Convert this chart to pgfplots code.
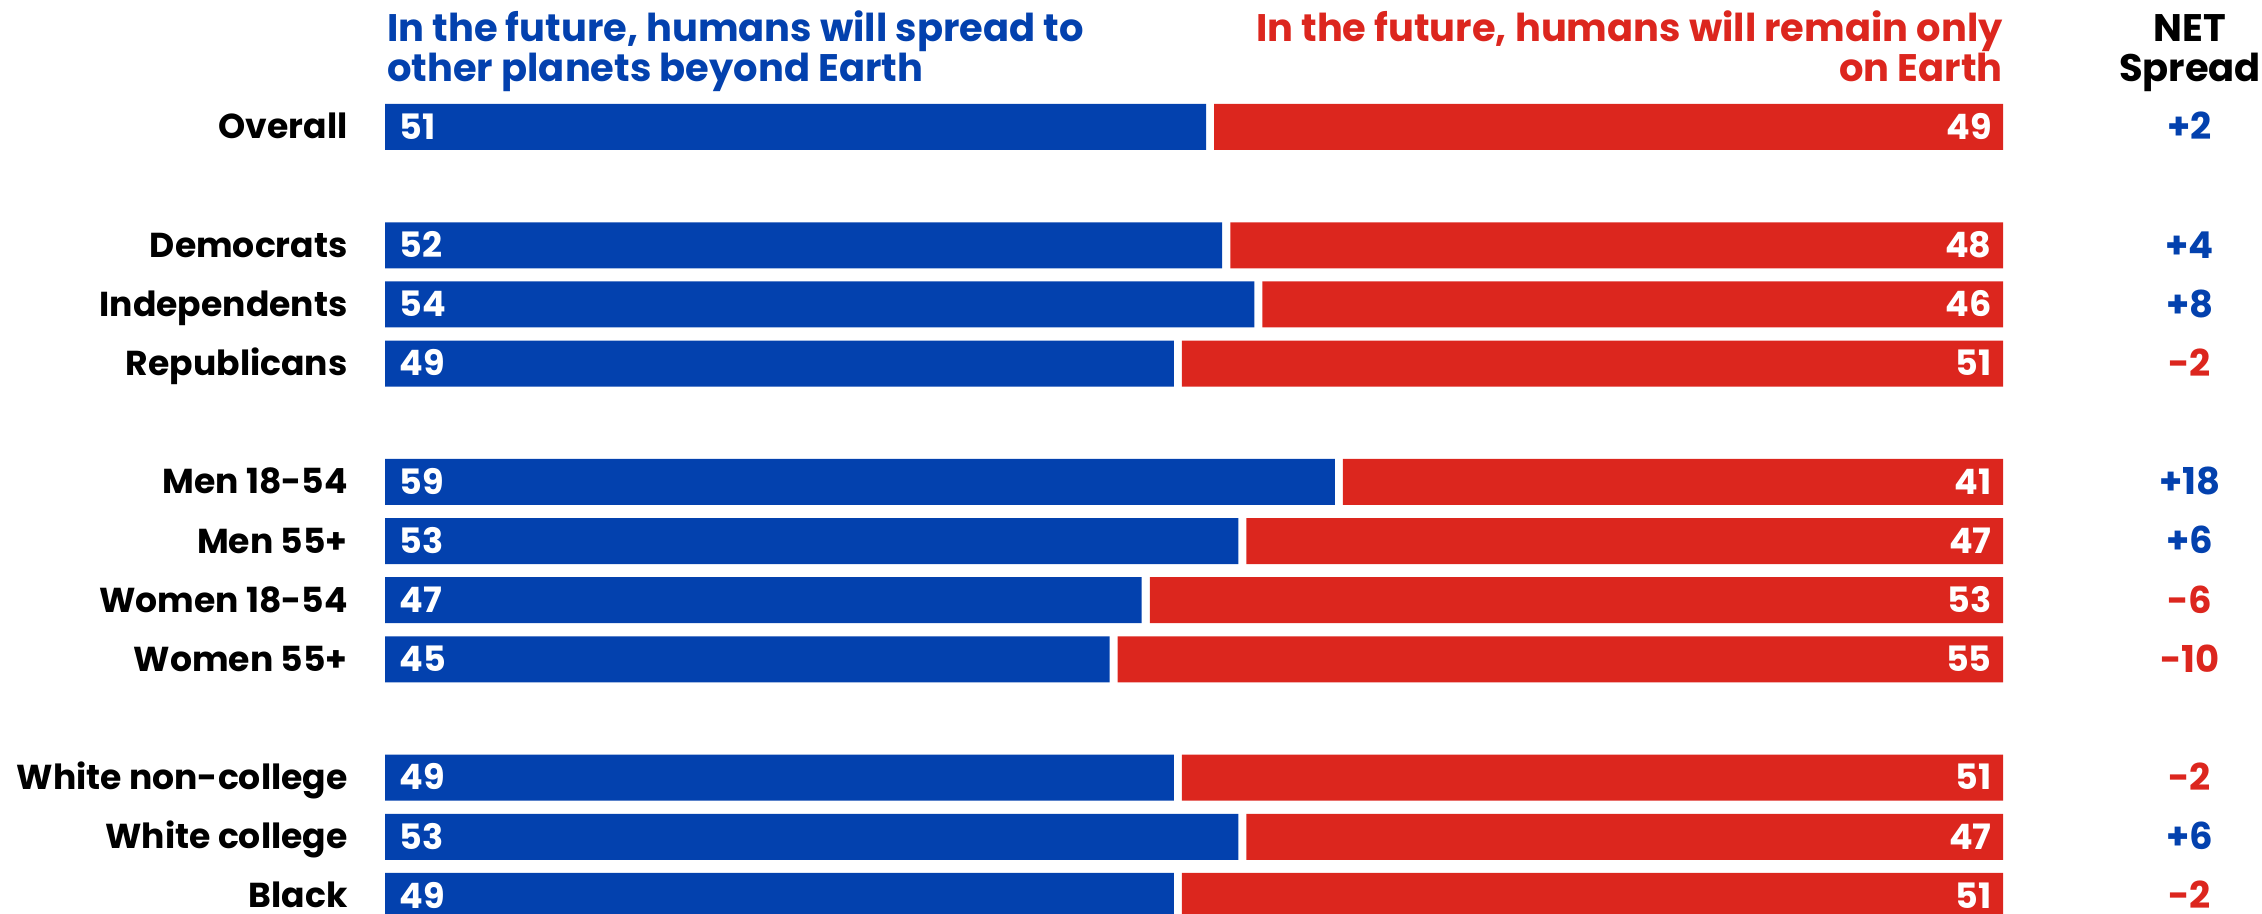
\documentclass[border=0pt]{standalone}
\usepackage{fontspec}
\setmainfont{Poppins}
\usepackage{pgfplots}
\usepackage{pgfplotstable}
\pgfplotsset{compat=1.18}
\definecolor{spreadblue}{RGB}{3,65,174}
\definecolor{earthred}{RGB}{220,38,30}

% row position, share "spread", spacer, share "remain only on Earth", net
\pgfplotstableread{
row spread gap remain net netlab
0  51 0.5 49   2  +2
2  52 0.5 48   4  +4
3  54 0.5 46   8  +8
4  49 0.5 51  -2  -2
6  59 0.5 41  18  +18
7  53 0.5 47   6  +6
8  47 0.5 53  -6  -6
9  45 0.5 55 -10  -10
11 49 0.5 51  -2  -2
12 53 0.5 47   6  +6
13 49 0.5 51  -2  -2
}\spreaddata

\newcommand{\lblfont}{\bfseries\fontsize{17.3}{20}\selectfont}
\newcommand{\numfont}{\bfseries\fontsize{17.5}{20}\selectfont}
\newcommand{\netfont}{\bfseries\fontsize{18.5}{21}\selectfont}
\newcommand{\ttlfont}{\bfseries\fontsize{19.2}{22}\selectfont}

\begin{document}
\begin{tikzpicture}
\begin{axis}[
    at={(0,0)}, anchor=north west,
    scale only axis,
    width=809pt, height=457pt,
    xmin=0, xmax=100.5,
    ymin=-2.147, ymax=13.305,
    y dir=reverse,
    xbar stacked,
    bar width=23pt,
    clip=false,
    set layers,
    axis line style={draw=none},
    tick style={draw=none},
    xtick=\empty,
    ytick={0,2,3,4,6,7,8,9,11,12,13},
    yticklabels={Overall,Democrats,Independents,Republicans,Men 18-54,Men 55+,Women 18-54,Women 55+,White non-college,White college,Black},
    y tick label style={font=\lblfont, anchor=east, inner sep=0pt, xshift=-18.5pt,
        text height=12pt, text depth=0pt},
]
    % label for the blue share, at the start of the bar
    \addplot[draw=none, fill=none, forget plot, on layer=axis foreground,
        point meta=explicit symbolic,
        nodes near coords,
        nodes near coords style={anchor=west, text=white, font=\numfont, inner sep=0pt, xshift=7pt,
            text height=12.2pt, text depth=0pt}]
        table[x expr=0.001, y=row, meta=spread] {\spreaddata};
    \addplot[fill=spreadblue, draw=none] table[x=spread, y=row] {\spreaddata};
    \addplot[fill=none, draw=none] table[x=gap, y=row] {\spreaddata};
    \addplot[fill=earthred, draw=none] table[x=remain, y=row] {\spreaddata};
    % label for the red share, at the end of the bar
    \addplot[draw=none, fill=none, forget plot, on layer=axis foreground,
        point meta=explicit symbolic,
        nodes near coords,
        nodes near coords style={anchor=east, text=white, font=\numfont, inner sep=0pt, xshift=-5.5pt,
            text height=12.2pt, text depth=0pt}]
        table[x expr=0.001, y=row, meta=remain] {\spreaddata};
    % NET spread column (label sits at the middle of this empty segment)
    \addplot[draw=none, fill=none, forget plot, on layer=axis foreground,
        point meta=explicit symbolic,
        visualization depends on={\thisrow{net} \as \netv},
        nodes near coords={\ifdim\netv pt<0pt\color{earthred}\else\color{spreadblue}\fi\pgfplotspointmeta},
        nodes near coords style={anchor=center, font=\netfont, inner sep=0pt,
            text height=12.9pt, text depth=0pt}]
        table[x expr=23.2, y=row, meta=netlab] {\spreaddata};
\end{axis}
% column headings
\node[anchor=base west, inner sep=0pt, text=spreadblue, font=\ttlfont] at (1pt,-21pt) {In the future, humans will spread to};
\node[anchor=base west, inner sep=0pt, text=spreadblue, font=\ttlfont] at (1pt,-41pt) {other planets beyond Earth};
\node[anchor=base east, inner sep=0pt, text=earthred, font=\ttlfont] at (809pt,-21pt) {In the future, humans will remain only};
\node[anchor=base east, inner sep=0pt, text=earthred, font=\ttlfont] at (809pt,-41pt) {on Earth};
\node[anchor=base, inner sep=0pt, font=\ttlfont] at (902.5pt,-21pt) {NET};
\node[anchor=base, inner sep=0pt, font=\ttlfont] at (902.5pt,-41pt) {Spread};
\pgfresetboundingbox
\path[use as bounding box] (-192.5pt,0pt) rectangle (938.5pt,-457pt);
\end{tikzpicture}
\end{document}
